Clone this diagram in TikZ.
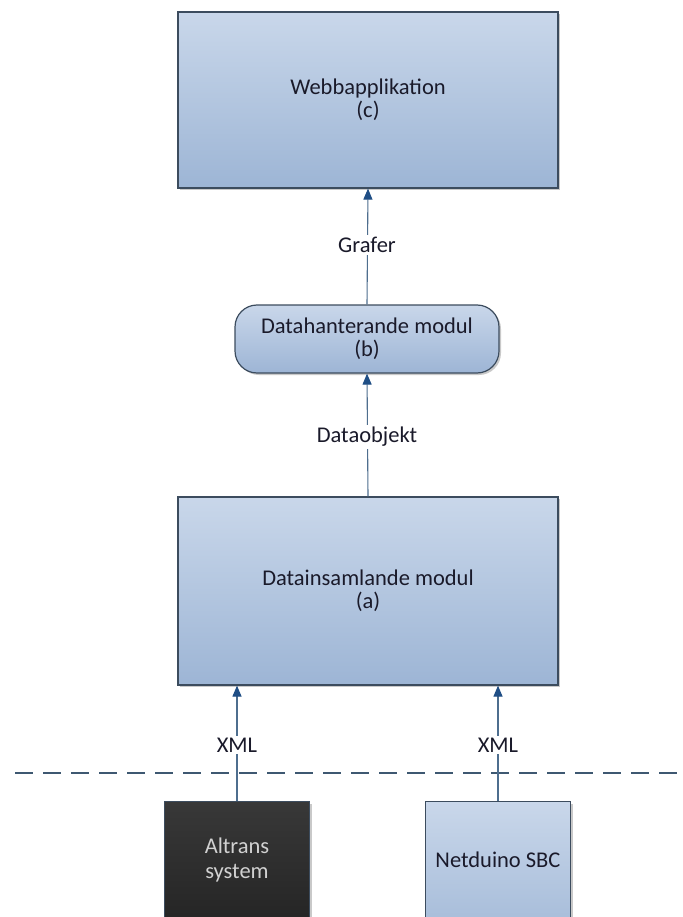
\documentclass[tikz,border=0pt]{standalone}
\usepackage{fontspec}
\setmainfont{Carlito}
\usetikzlibrary{arrows.meta,shadows}
\definecolor{boxtop}{HTML}{C9D7EA}
\definecolor{boxbot}{HTML}{9DB5D5}
\definecolor{boxline}{HTML}{3C4C5E}
\definecolor{conn}{HTML}{4E6E8E}
\definecolor{tipc}{HTML}{1F4E85}
\definecolor{txt}{HTML}{1A1A2A}
\tikzset{
  blk/.style={draw=boxline, line width=1.2pt, top color=boxtop, bottom color=boxbot,
     align=center, text=txt, font=\fontsize{22.5}{23}\selectfont, inner sep=0pt,
     drop shadow={shadow xshift=2pt, shadow yshift=-2pt, opacity=0.35, fill=black!60}},
  darkblk/.style={blk, top color=black!78, bottom color=black!88, text=black!18},
  conna/.style={draw=conn, line width=1.1pt, -{Triangle[width=9pt,length=11pt,fill=tipc,color=tipc]}},
  lbl/.style={fill=white, inner sep=2pt, text=txt, font=\fontsize{22.5}{23}\selectfont},
}
\begin{document}
\begin{tikzpicture}[x=1pt,y=-1pt]
\useasboundingbox (0,0) rectangle (682,917);
\clip (0,0) rectangle (682,917);
\fill[white] (0,0) rectangle (682,917);
% boxes
\node[blk, minimum width=380pt, minimum height=176pt] (web) at (368,100) {Webbapplikation\\(c)};
\node[blk, rounded corners=22pt, minimum width=264pt, minimum height=68pt] (hant) at (367,339) {Datahanterande modul\\(b)};
\node[blk, minimum width=380pt, minimum height=188pt] (insam) at (368,591) {Datainsamlande modul\\(a)};
\node[darkblk, minimum width=145pt, minimum height=160pt, anchor=north] (alt) at (237,801) {};
\node[blk, minimum width=145pt, minimum height=160pt, anchor=north] (net) at (498,801) {};
\node[align=center, text=black!18, font=\fontsize{22.5}{25}\selectfont] (altt) at (237,860) {Altrans\\system};
\node[text=txt, font=\fontsize{22.5}{23}\selectfont] (nett) at (498,860) {Netduino SBC};
% dashed separator
\coordinate (dl) at (15,773);
\coordinate (dr) at (682,773);
\draw[conn!80!black, line width=1.2pt, dash pattern=on 18pt off 10pt] (dl) -- (dr);
% connectors
\draw[conna] (hant.north) -- (web.south);
\draw[conna] (insam.north) -- (hant.south);
\draw[conna] (alt.north) -- (alt.north |- insam.south);
\draw[conna] (net.north) -- (net.north |- insam.south);
% labels
\node[lbl] (l1) at (367,245) {Grafer};
\node[lbl] (l2) at (367,437) {Dataobjekt};
\node[lbl] (l3) at (237,745) {XML};
\node[lbl] (l4) at (498,745) {XML};
\end{tikzpicture}
\end{document}
